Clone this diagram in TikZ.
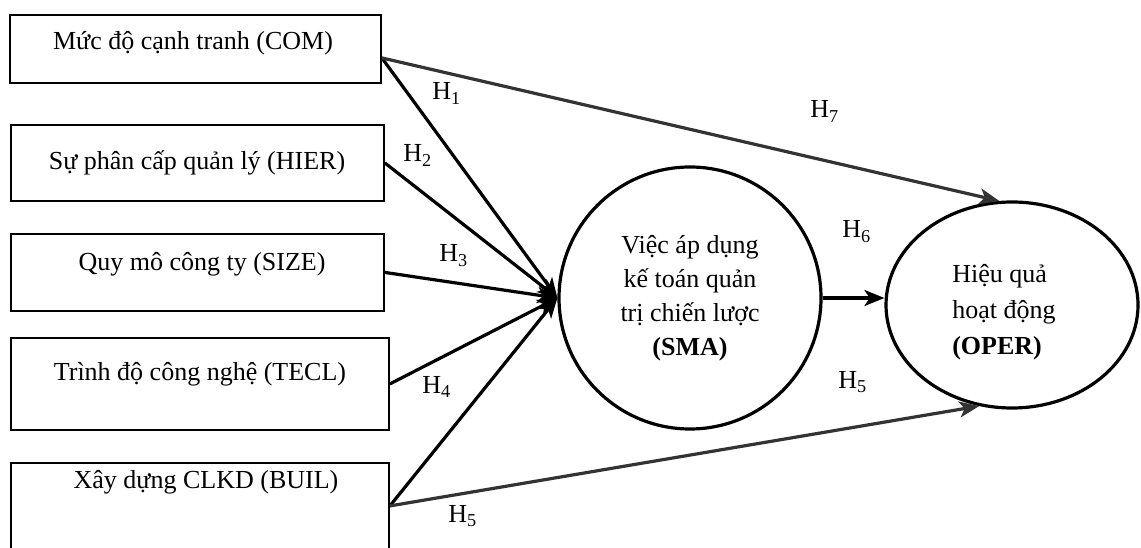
\documentclass[tikz,border=0pt]{standalone}
\usepackage{fontspec}
\setmainfont{Liberation Serif}
\usetikzlibrary{shapes.geometric,arrows.meta,calc}
\begin{document}
\begin{tikzpicture}[x=0.75pt,y=-0.75pt,
  txt/.style={inner sep=0pt, font=\fontsize{19.5}{25.5}\selectfont},
  box/.style={draw, line width=1.4pt, anchor=north west, inner sep=0pt},
  hl/.style={inner sep=0pt, anchor=base west, font=\fontsize{19.5}{23}\selectfont},
  arr/.style={line width=2.4pt, -{Stealth[length=15pt,width=12pt,inset=4pt]}},
  garr/.style={arr, draw=black!80},
]
\clip (0,0) rectangle (1141,548);
\fill[white] (0,0) rectangle (1141,548);
% boxes
\node[box, minimum width=371*0.75pt, minimum height=68*0.75pt] (COM) at (9,14) {};
\node[box, minimum width=373*0.75pt, minimum height=76*0.75pt] (HIER) at (10,124) {};
\node[box, minimum width=373*0.75pt, minimum height=77*0.75pt] (SIZE) at (10,233) {};
\node[box, minimum width=378*0.75pt, minimum height=92*0.75pt] (TECL) at (10,337) {};
\node[box, minimum width=378*0.75pt, minimum height=110*0.75pt] (BUIL) at (10,462) {};
% box texts
\node[txt, anchor=base] (tCOM) at (193,50) {Mức độ cạnh tranh (COM)};
\node[txt, anchor=base] (tHIER) at (197,170) {Sự phân cấp quản lý (HIER)};
\node[txt, anchor=base] (tSIZE) at (202,271) {Quy mô công ty (SIZE)};
\node[txt, anchor=base] (tTECL) at (200,381) {Trình độ công nghệ (TECL)};
\node[txt, anchor=base] (tBUIL) at (206,488) {Xây dựng CLKD (BUIL)};
% circles
\node[circle, draw, line width=2.4pt, minimum size=262*0.75pt, inner sep=0pt,
      align=center, font=\fontsize{19.5}{25.5}\selectfont] (SMA) at (690,298)
      {Việc áp dụng\\kế toán quản\\trị chiến lược\\\textbf{(SMA)}};
\node[ellipse, draw, line width=2.4pt, minimum width=252*0.75pt, minimum height=206*0.75pt,
      inner sep=0pt] (OPER) at (1012,305) {};
\node[txt, anchor=west, align=left, font=\fontsize{19.5}{27}\selectfont] (tOPER) at (952,312)
      {Hiệu quả\\hoạt động\\\textbf{(OPER)}};
% arrows
\draw[arr] ([yshift=-6.75pt]COM.east) -- (SMA.west);
\draw[arr] (HIER.east) -- (SMA.west);
\draw[arr] (SIZE.east) -- (SMA.west);
\draw[arr] (TECL.east) -- (SMA.west);
\draw[arr] ([yshift=9pt]BUIL.east) -- (SMA.west);
\draw[garr] ([yshift=-6.75pt]COM.east) -- (OPER.97);
\draw[garr] ([yshift=9pt]BUIL.east) -- (OPER.252);
\draw[arr] (SMA.east) -- (SMA.east -| OPER.west);
% labels
\node[hl] (h1) at (432,100) {H\textsubscript{1}};
\node[hl] (h2) at (403,162) {H\textsubscript{2}};
\node[hl] (h3) at (439,262) {H\textsubscript{3}};
\node[hl] (h4) at (422,393) {H\textsubscript{4}};
\node[hl] (h5a) at (448,522) {H\textsubscript{5}};
\node[hl] (h6) at (842,238) {H\textsubscript{6}};
\node[hl] (h5b) at (838,388) {H\textsubscript{5}};
\node[hl] (h7) at (810,118) {H\textsubscript{7}};
\end{tikzpicture}
\end{document}
